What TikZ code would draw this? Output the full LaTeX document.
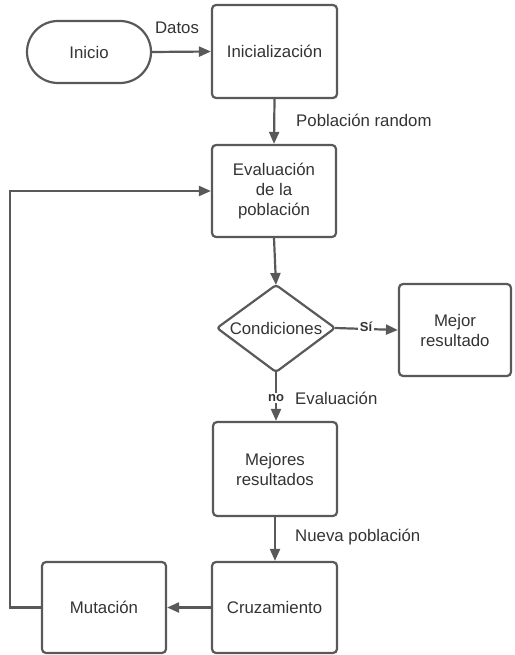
\documentclass[tikz,border=0pt]{standalone}
\usepackage{fontspec}
\setmainfont{Liberation Sans}
\usetikzlibrary{arrows.meta}
\definecolor{lineclr}{HTML}{595959}
\definecolor{txtclr}{HTML}{333333}
\begin{document}
\begin{tikzpicture}[x=1pt,y=-1pt,
  font=\fontsize{16.8}{20}\selectfont, text=txtclr,
  box/.style={draw=lineclr, line width=2.2pt, rounded corners=4pt,
    minimum width=124pt, minimum height=92pt, inner sep=0pt, align=center},
  arr/.style={draw=lineclr, line width=2.2pt,
    -{Triangle[length=12pt,width=10pt]}},
  lbl/.style={font=\fontsize{16.8}{20}\selectfont, inner sep=0pt},
  tag/.style={font=\fontsize{13}{15}\selectfont\bfseries, fill=white,
    inner sep=1.5pt}]
\useasboundingbox (0,0) rectangle (514,655);

% process steps
\node[box, minimum height=62pt, rounded corners=31pt] (inicio) at (89,52) {Inicio};
\node[box, minimum width=125pt, minimum height=93pt] (init) at (274.5,51.5) {Inicialización};
\node[box] (eval) at (274,191) {Evaluación\\de la\\población};
\node[box, minimum width=112pt] (mejor) at (455,330) {Mejor\\resultado};
\node[box, minimum height=94pt] (mejores) at (275,469) {Mejores\\resultados};
\node[box, minimum width=125pt, minimum height=91pt] (cruz) at (274.5,607.5) {Cruzamiento};
\node[box, minimum height=91pt] (mut) at (104,607.5) {Mutación};

% decision diamond
\node[inner sep=0pt] (cond) at (276,328) {Condiciones};
\coordinate (condT) at (276,285);
\coordinate (condB) at (276,372);
\coordinate (condL) at (217,328);
\coordinate (condR) at (335,328);
\draw[lineclr, line width=2.2pt, rounded corners=3pt]
  (condT) -- (condR) -- (condB) -- (condL) -- cycle;

% connectors
\draw[arr] (inicio.east) -- (init.west);
\draw[arr] (init.south) -- (eval.north);
\draw[arr] (eval.south) -- (condT);
\draw[arr] (condR) -- (mejor.west);
\draw[arr] (condB) -- (condB |- mejores.north);
\draw[arr] (mejores.south) -- (mejores.south |- cruz.north);
\draw[arr] (cruz.west) -- (mut.east);
\draw[arr] (mut.west) -- ++(-31,0) |- (eval.west);

% connector labels
\node[lbl] (datos) at (177,28) {Datos};
\node[lbl, anchor=west] (poblrand) at (296,120) {Población random};
\node[tag] (si) at (366,327) {Sí};
\node[tag] (no) at (276,398) {no};
\node[lbl, anchor=west] (evallbl) at (295,398) {Evaluación};
\node[lbl, anchor=west] (nueva) at (295,537) {Nueva población};
\end{tikzpicture}
\end{document}
